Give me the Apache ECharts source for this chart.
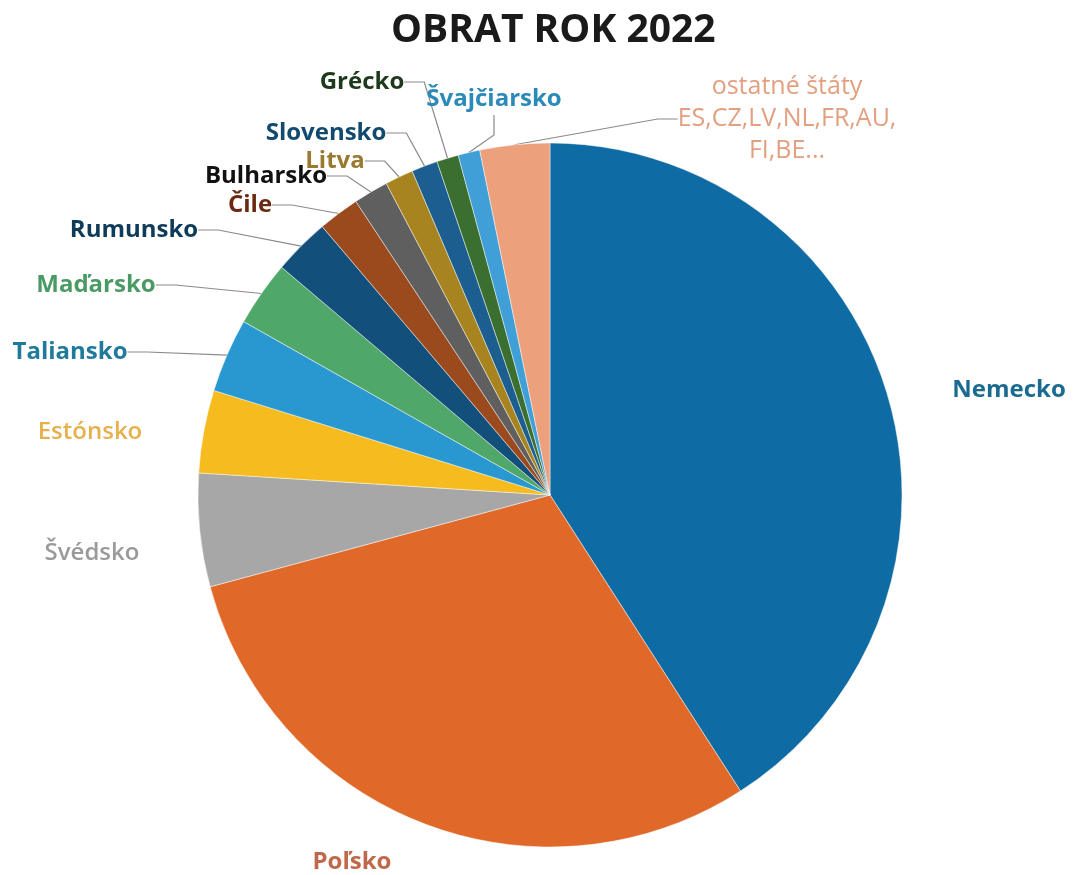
<!DOCTYPE html>
<html>
<head>
<meta charset="utf-8">
<script src="https://cdn.jsdelivr.net/npm/echarts@6/dist/echarts.min.js"></script>
<style>
  html, body { margin: 0; padding: 0; background: #fff; }
  #main { width: 1074px; height: 875px; }
</style>
</head>
<body>
<div id="main"></div>
<script>
// share of turnover per country, %
const countries = ['Nemecko', 'Poľsko', 'Švédsko', 'Estónsko', 'Taliansko', 'Maďarsko', 'Rumunsko',
  'Čile', 'Bulharsko', 'Litva', 'Slovensko', 'Grécko', 'Švajčiarsko',
  'ostatné štáty\nES,CZ,LV,NL,FR,AU,\nFI,BE...'];
const shares = [40.9, 29.9, 5.2, 3.8, 3.4, 3.0, 2.6, 1.9, 1.6, 1.3, 1.2, 1.0, 1.0, 3.2];

const sliceColors = ['#0f6ba3', '#e0692a', '#a7a7a7', '#f5bb1f', '#2a98d0', '#4fa86a', '#124f7a',
  '#9b4a1d', '#5f5f5f', '#a88420', '#1b5e8f', '#3b6f30', '#3f9fd6', '#eda07c'];
const labelColors = ['#1a6b8f', '#c0694a', '#9a9a9a', '#e6b04c', '#1f7a9c', '#4a9a66', '#0f3b5a',
  '#6b2a10', '#111111', '#9a7a30', '#114a6e', '#1d3a1d', '#2a8ab8', '#e3a080'];
const labelWeights = ['bold', 'bold', 600, 600, 'bold', 'bold', 'bold', 'bold', 'bold', 'bold', 'bold', 'bold', 'bold', 'normal'];
const labelSizes = [24, 24, 24, 24, 24, 24, 24, 24, 24, 24, 24, 24, 24, 25];
// label centres, px
const labelPos = [[1009, 390], [352, 862], [92, 553], [90, 432], [70, 352], [96, 285], [134, 230],
  [250, 205], [266, 176], [335, 161], [326, 133], [362, 82], [494, 99], [787, 119]];
const noLine = [0, 1, 2, 3];

const chart = echarts.init(document.getElementById('main'));

chart.setOption({
  animation: false,
  title: {
    text: 'OBRAT ROK 2022',
    left: 386,
    top: 6,
    textStyle: { fontFamily: 'Open Sans', fontSize: 39, fontWeight: 'bold', color: '#1a1a1a' }
  },
  series: [{
    type: 'pie',
    center: [550, 495],
    radius: 352,
    startAngle: 90,
    clockwise: true,
    itemStyle: { borderColor: 'rgba(255,255,255,0.45)', borderWidth: 1 },
    label: {
      show: true,
      position: 'outside',
      fontFamily: 'Open Sans',
      lineHeight: 32,
      align: 'center'
    },
    labelLine: {
      show: true,
      length: 12,
      length2: 20,
      lineStyle: { color: '#8a8a8a', width: 1.2 }
    },
    labelLayout: function (p) {
      const pos = labelPos[p.dataIndex];
      return { x: pos[0], y: pos[1], align: 'center', verticalAlign: 'middle' };
    },
    data: countries.map((name, i) => ({
      name: name,
      value: shares[i],
      itemStyle: { color: sliceColors[i] },
      label: { color: labelColors[i], fontWeight: labelWeights[i], fontSize: labelSizes[i] },
      labelLine: { show: noLine.indexOf(i) < 0 }
    }))
  }]
});
</script>
</body>
</html>
